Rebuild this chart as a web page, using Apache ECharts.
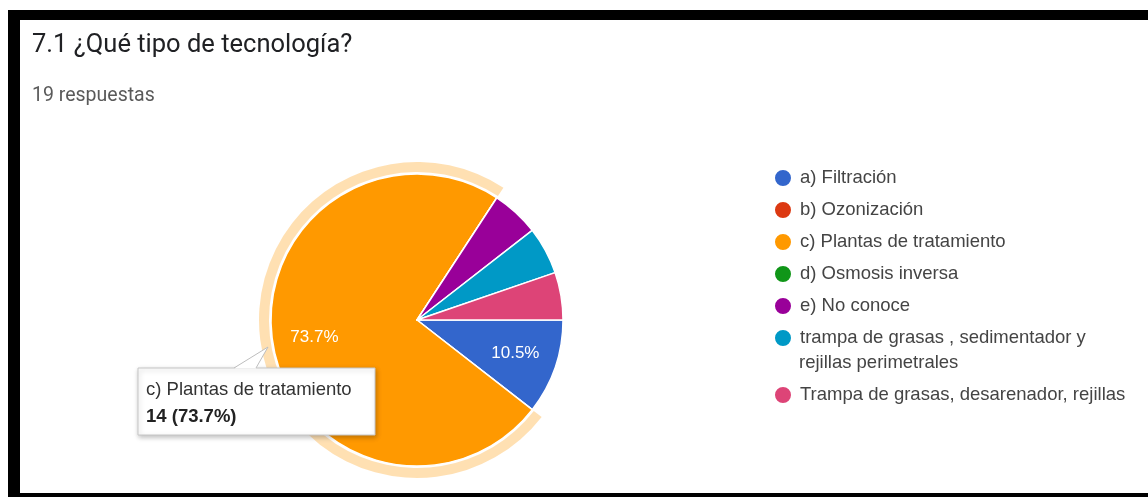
<!DOCTYPE html>
<html>
<head>
<meta charset="utf-8">
<script src="https://cdn.jsdelivr.net/npm/echarts@6/dist/echarts.min.js"></script>
<style>
  html, body { margin: 0; padding: 0; background: #fff; overflow: hidden; }
  #chart { position: absolute; left: 0; top: 0; width: 1148px; height: 497px; }
  #frame { position: absolute; left: 8px; top: 10px; width: 1200px; height: 473px;
           border-top: 10px solid #000; border-left: 12px solid #000; border-bottom: 4px solid #000;
           pointer-events: none; }
</style>
</head>
<body>
<div id="chart"></div>
<div id="frame"></div>
<script>
const titleText = '7.1 ¿Qué tipo de tecnología?';
const subtitleText = '19 respuestas';
const legendWrap = ['trampa de grasas , sedimentador y', 'rejillas perimetrales'];
const categories = ['a) Filtración', 'b) Ozonización', 'c) Plantas de tratamiento', 'd) Osmosis inversa',
                    'e) No conoce', legendWrap.join(' '), 'Trampa de grasas, desarenador, rejillas'];
const counts = [2, 0, 14, 0, 1, 1, 1];
const colors = ['#3366cc', '#dc3912', '#ff9900', '#109618', '#990099', '#0099c6', '#dd4477'];
const highlighted = 2;

const total = counts.reduce((a, b) => a + b, 0);
const FONT = 'Arial, "Liberation Sans", sans-serif';
const CX = 417, CY = 320, R = 146;

const mainData = categories.map((n, i) => ({ name: n, value: counts[i], itemStyle: { color: colors[i] } }));
const haloData = categories.map((n, i) => ({ name: n, value: counts[i],
  itemStyle: { color: i === highlighted ? 'rgba(255,153,0,0.3)' : 'rgba(0,0,0,0)' } }));
const labelData = categories.map((n, i) => ({ name: n, value: counts[i], itemStyle: { color: 'rgba(0,0,0,0)' } }));

const chart = echarts.init(document.getElementById('chart'), null, { renderer: 'canvas' });
const legendText = { fontSize: 18.5, color: '#444', lineHeight: 18, fontFamily: FONT, padding: [0, 0, 0, 3] };

chart.setOption({
  animation: false,
  color: colors,
  legend: [
    { data: categories.slice(0, 6), orient: 'vertical', left: 773, top: 168, itemGap: 12, padding: 0,
      itemWidth: 18, itemHeight: 18, icon: 'circle', selectedMode: false, textStyle: legendText,
      formatter: n => (n === categories[5] ? legendWrap[0] : n) },
    { data: [categories[6]], orient: 'vertical', left: 773, top: 385, padding: 0,
      itemWidth: 18, itemHeight: 18, icon: 'circle', selectedMode: false, textStyle: legendText }
  ],
  series: [
    { type: 'pie', center: [CX, CY], radius: R, startAngle: 0, clockwise: true, silent: true,
      label: { show: false }, labelLine: { show: false }, emphasis: { disabled: true },
      itemStyle: { borderColor: '#fff', borderWidth: 1.5 }, data: mainData },
    { type: 'pie', center: [CX, CY], radius: [R + 2, R + 12], startAngle: 0, clockwise: true, silent: true,
      label: { show: false }, labelLine: { show: false }, emphasis: { disabled: true },
      itemStyle: { borderWidth: 0 }, data: haloData, z: 1 },
    { type: 'pie', center: [CX, CY], radius: 202, startAngle: 0, clockwise: true, silent: true,
      emphasis: { disabled: true }, itemStyle: { borderWidth: 0 }, labelLine: { show: false },
      label: { show: true, position: 'inside', color: '#fff', fontSize: 17, fontFamily: FONT,
        formatter: p => (p.percent >= 10 ? p.percent.toFixed(1) + '%' : '') },
      data: labelData, z: 3 }
  ],
  graphic: [
    { type: 'text', x: 32, y: 46, z: 100,
      style: { text: titleText, font: '400 25.5px Roboto, Arial, sans-serif', fill: '#202124', verticalAlign: 'middle' } },
    { type: 'text', x: 32, y: 96, z: 100,
      style: { text: subtitleText, font: '400 19.5px Roboto, Arial, sans-serif', fill: '#5a5a5a', verticalAlign: 'middle' } },
    { type: 'text', x: 799, y: 363, z: 100,
      style: { text: legendWrap[1], font: '18.5px ' + FONT, fill: '#444', verticalAlign: 'middle' } },
    { type: 'rect', z: 100, shape: { x: 138, y: 368, width: 237, height: 67 },
      style: { fill: '#fff', stroke: '#c6c6c6', lineWidth: 1,
               shadowBlur: 5, shadowColor: 'rgba(0,0,0,0.25)', shadowOffsetX: 1, shadowOffsetY: 2 } },
    { type: 'polygon', z: 101, shape: { points: [[234, 368.5], [268, 347], [256, 368.5]] },
      style: { fill: '#fff', stroke: null } },
    { type: 'polyline', z: 102, shape: { points: [[234, 368], [268, 347], [256, 368]] },
      style: { stroke: '#bdbdbd', lineWidth: 1, fill: null } },
    { type: 'text', x: 146, y: 390, z: 103,
      style: { text: categories[highlighted], font: '18.5px ' + FONT, fill: '#333', verticalAlign: 'middle' } },
    { type: 'text', x: 146, y: 417, z: 103,
      style: { text: counts[highlighted] + ' (' + (counts[highlighted] / total * 100).toFixed(1) + '%)',
               font: 'bold 18.5px ' + FONT, fill: '#222', verticalAlign: 'middle' } }
  ]
});
</script>
</body>
</html>
